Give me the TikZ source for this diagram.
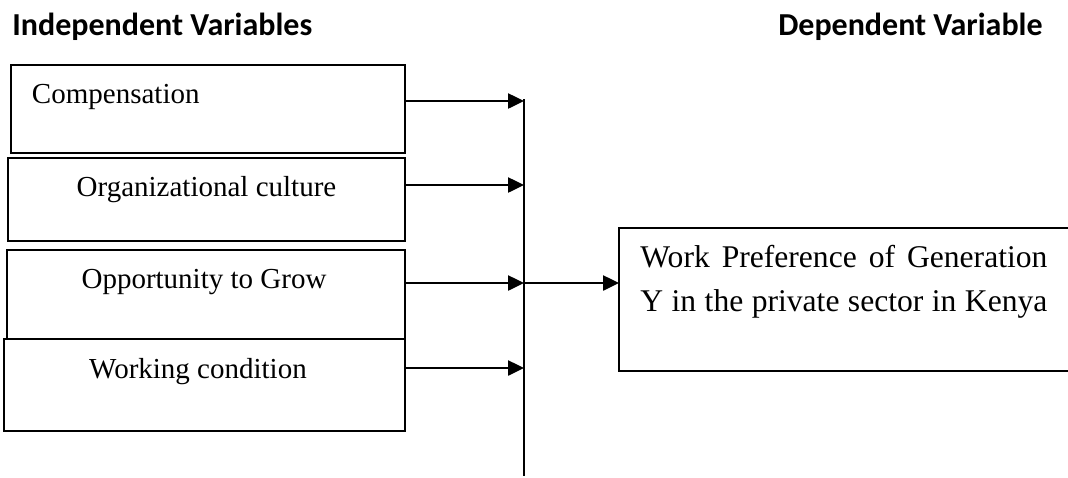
\documentclass[tikz,border=0pt]{standalone}
\usepackage{fontspec}
\setmainfont{Liberation Serif}
\newfontfamily\headfont{Carlito}
\usetikzlibrary{arrows.meta,positioning}
\newcommand{\spreadline}[1]{\hbox to 203.5pt{\spaceskip=0.25em plus 1fil\relax #1}}

\begin{document}
\begin{tikzpicture}[
    x=0.5pt, y=-0.5pt,
    node distance=45.25pt,
    every node/.style={font=\fontsize{14.5}{22}\selectfont},
    head/.style={font=\headfont\fontsize{16}{19}\selectfont\bfseries, inner sep=0pt},
    box/.style={draw, inner sep=0pt, text height=19pt, text depth=25pt},
    arrow/.style={-{Triangle[length=8pt,width=7.5pt]}, line width=1.25pt}
  ]
    \useasboundingbox (0,0) rectangle (1068,477);
    \node[head, anchor=base west] (indep) at (12,35) {Independent Variables};
    \node[head, anchor=base east] (dep) at (1043,35) {Dependent Variable};
    \node[box, line width=1.2pt, text width=176pt, inner xsep=10.5pt, align=left] (comp) at (208,109) {Compensation};
    \node[box, line width=1.2pt, minimum width=198.5pt, text depth=22.5pt, below of=comp, xshift=-0.75pt] (culture) {Organizational culture};
    \node[box, line width=0.8pt, minimum width=199pt, text depth=25.5pt, below of=culture, yshift=-2.25pt, xshift=-0.25pt] (grow) {Opportunity to Grow\hspace*{2pt}};
    \node[box, line width=0.8pt, minimum width=200.5pt, text height=19.5pt, text depth=26.5pt, below of=grow, xshift=-0.75pt] (work) {Working condition\hspace*{6.5pt}};
    \node[font=\fontsize{15.8}{22}\selectfont, inner xsep=10.5pt, inner ysep=0pt, text width=203.5pt, align=left, text height=19.5pt, text depth=51.5pt, anchor=north west] (pref) at (619,228)
      {\spreadline{Work Preference of Generation}\\\spreadline{Y in the private sector in Kenya}};
    \draw[line width=1pt] (pref.north east) -- (pref.north west) -- (pref.south west) -- (pref.south east);
    % collecting line
    \coordinate (bustop) at (524,99);
    \coordinate (busbot) at (524,476);
    \coordinate (c1) at (524,101);
    \coordinate (c2) at (524,185);
    \coordinate (c3) at (524,283);
    \coordinate (c4) at (524,368);
    \draw[line width=0.9pt] (bustop) -- (busbot);
    \draw[arrow] (c1 -| comp.east) -- (c1);
    \draw[arrow] (c2 -| culture.east) -- (c2);
    \draw[arrow] (c3 -| grow.east) -- (c3);
    \draw[arrow] (c4 -| work.east) -- (c4);
    \draw[arrow] (c3) -- (c3 -| pref.west);
  \end{tikzpicture}
\end{document}
